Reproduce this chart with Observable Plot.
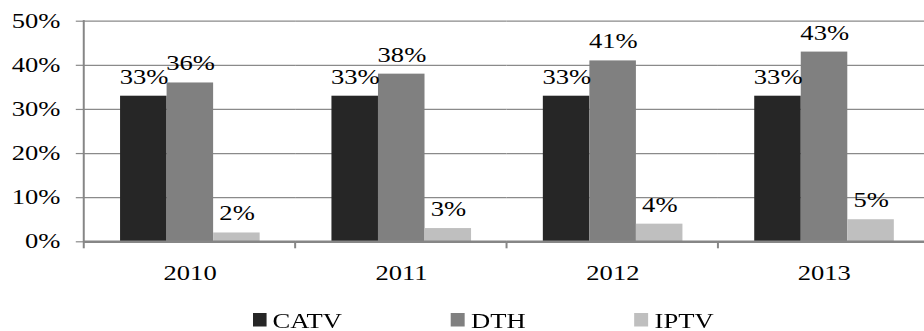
<!DOCTYPE html>
<html>
<head>
<meta charset="utf-8">
<script src="https://cdn.jsdelivr.net/npm/d3@7"></script>
<script src="https://cdn.jsdelivr.net/npm/@observablehq/plot@0.6"></script>
<style>
  html, body { margin: 0; padding: 0; background: #fff; }
  /* The chart is laid out narrow and widened horizontally, like a stretched office chart. */
  #wrap { width: 695px; transform: scaleX(1.3295); transform-origin: 0 0; }
  #wrap svg text { font-family: "Liberation Serif", "Times New Roman", serif; font-variant: normal; }
  #wrap .lg-swatches {
    font-family: "Liberation Serif", "Times New Roman", serif;
    font-size: 20px; color: #000;
    margin: 0; min-height: 0; padding: 10px 0 0 190px;
    display: flex; align-items: flex-start; flex-wrap: nowrap;
  }
  #wrap .lg-swatch { margin-right: 82px; line-height: 22px; display: inline-flex; align-items: center; }
  #wrap .lg-swatch > svg { margin-right: 4.5px; position: relative; top: -1.5px; }
</style>
</head>
<body>
<div id="wrap"></div>
<script>
// Market share of pay-TV platforms by year
const years = ["2010", "2011", "2012", "2013"];
const series = ["CATV", "DTH", "IPTV"];
const catv = [33, 33, 33, 33];
const dth = [36, 38, 41, 43];
const iptv = [2, 3, 4, 5];
const colors = ["#262626", "#808080", "#bfbfbf"];
const yTicks = [0, 10, 20, 30, 40, 50];

const bySeries = {CATV: catv, DTH: dth, IPTV: iptv};
const rows = years.flatMap((year, i) =>
  series.map(s => ({year, series: s, value: bySeries[s][i]}))
);

const serif = '"Liberation Serif", "Times New Roman", serif';
const gridColor = "#8a8a8a";
const axisColor = "#868686";

const chart = Plot.plot({
  width: 695,
  height: 300,
  marginLeft: 61.7,
  marginRight: -4.9,
  marginTop: 20.7,
  marginBottom: 58.7,
  style: {
    fontFamily: serif,
    fontSize: "20px",
    color: "#000",
    background: "#fff",
    overflow: "hidden"
  },
  fx: {domain: years, padding: 0, label: null},
  x: {domain: series, paddingInner: 0, paddingOuter: 0.759, axis: null},
  y: {domain: [0, 50], label: null},
  color: {domain: series, range: colors},
  marks: [
    Plot.gridY(yTicks, {stroke: gridColor, strokeOpacity: 1, strokeWidth: 1.2}),
    Plot.axisY(yTicks, {
      anchor: "left", tickSize: 6, tickPadding: 12.1,
      tickFormat: d => d + "%", stroke: gridColor, strokeWidth: 1.2,
      fill: "#000", fontSize: 20, fontFamily: serif, label: null
    }),
    Plot.barY(rows, {fx: "year", x: "series", y: "value", fill: "series"}),
    Plot.ruleY([0], {stroke: axisColor, strokeWidth: 2.5}),
    Plot.text(rows, {
      fx: "year", x: "series", y: "value",
      text: d => d.value + "%",
      dy: -12.5, lineAnchor: "bottom", fill: "#000", fontSize: 20, fontFamily: serif
    }),
    Plot.axisFx({anchor: "bottom", tickSize: 0, tickPadding: 23.5, fontSize: 20, fontFamily: serif, fill: "#000", label: null})
  ]
});

// Vertical axis line and category boundary ticks, placed with the chart's own scales
const fx = chart.scale("fx");
const y = chart.scale("y");
const y0 = y.apply(0);
const yTop = y.apply(50);
const edges = years.map(v => fx.apply(v));
edges.push(edges[edges.length - 1] + fx.bandwidth);
const g = d3.select(chart).append("g").attr("stroke", axisColor).attr("stroke-width", 1.5);
g.append("line")
  .attr("x1", edges[0]).attr("x2", edges[0])
  .attr("y1", yTop - 0.6).attr("y2", y0 + 7);
g.selectAll(".edge").data(edges.slice(1)).join("line")
  .attr("x1", d => d).attr("x2", d => d)
  .attr("y1", y0).attr("y2", y0 + 7);

const legend = chart.legend("color", {className: "lg", swatchWidth: 10.5, swatchHeight: 13.5});

const wrap = document.getElementById("wrap");
wrap.appendChild(chart);
wrap.appendChild(legend);
</script>
</body>
</html>
